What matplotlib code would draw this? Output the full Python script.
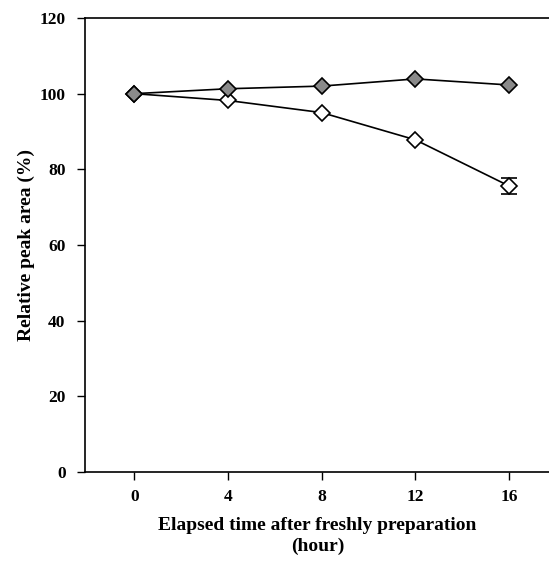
import matplotlib
matplotlib.use("Agg")
import matplotlib.pyplot as plt

hours = [0, 4, 8, 12, 16]
filled_vals = [100, 101.3, 102.0, 103.9, 102.3]
open_vals = [100, 98.2, 95.0, 87.8, 75.6]
open_err = [0, 0, 0, 0, 2.2]
yticks = [0, 20, 40, 60, 80, 100, 120]

plt.rcParams['font.family'] = ['Liberation Serif', 'DejaVu Serif']
plt.rcParams['font.weight'] = 'bold'

fig = plt.figure(figsize=(5.49, 5.63), dpi=100)
ax = fig.add_axes([85/549, 1 - 472/563, 1 - 85/549 + 0.002, (472 - 18)/563])

ax.errorbar(hours, open_vals, yerr=open_err, color='black', lw=1.2, marker='D', ms=8.2,
            markerfacecolor='white', markeredgecolor='black', markeredgewidth=1.2,
            capsize=6, capthick=1.2, elinewidth=1.0, zorder=3)
ax.plot(hours, filled_vals, color='black', lw=1.2, marker='D', ms=8.2,
        markerfacecolor='#8a8a8a', markeredgecolor='black', markeredgewidth=1.2, zorder=4)

ax.set_xlim(-2.1, 17.75)
ax.set_ylim(0, 120)
ax.set_xticks(hours)
ax.set_yticks(yticks)
ax.spines['right'].set_visible(False)
for s in ['left', 'bottom', 'top']:
    ax.spines[s].set_linewidth(1.2)
ax.tick_params(axis='both', direction='out', length=6, width=1.0, labelsize=12.5)
ax.tick_params(axis='y', pad=8)
ax.tick_params(axis='x', pad=6)
for lab in ax.get_xticklabels() + ax.get_yticklabels():
    lab.set_fontweight('bold')

ax.set_ylabel('Relative peak area (%)', fontsize=14, fontweight='bold', labelpad=3)
ax.set_xlabel('Elapsed time after freshly preparation\n(hour)', fontsize=14,
              fontweight='bold', labelpad=9, linespacing=1.3)

fig.savefig('out.png', dpi=100)
